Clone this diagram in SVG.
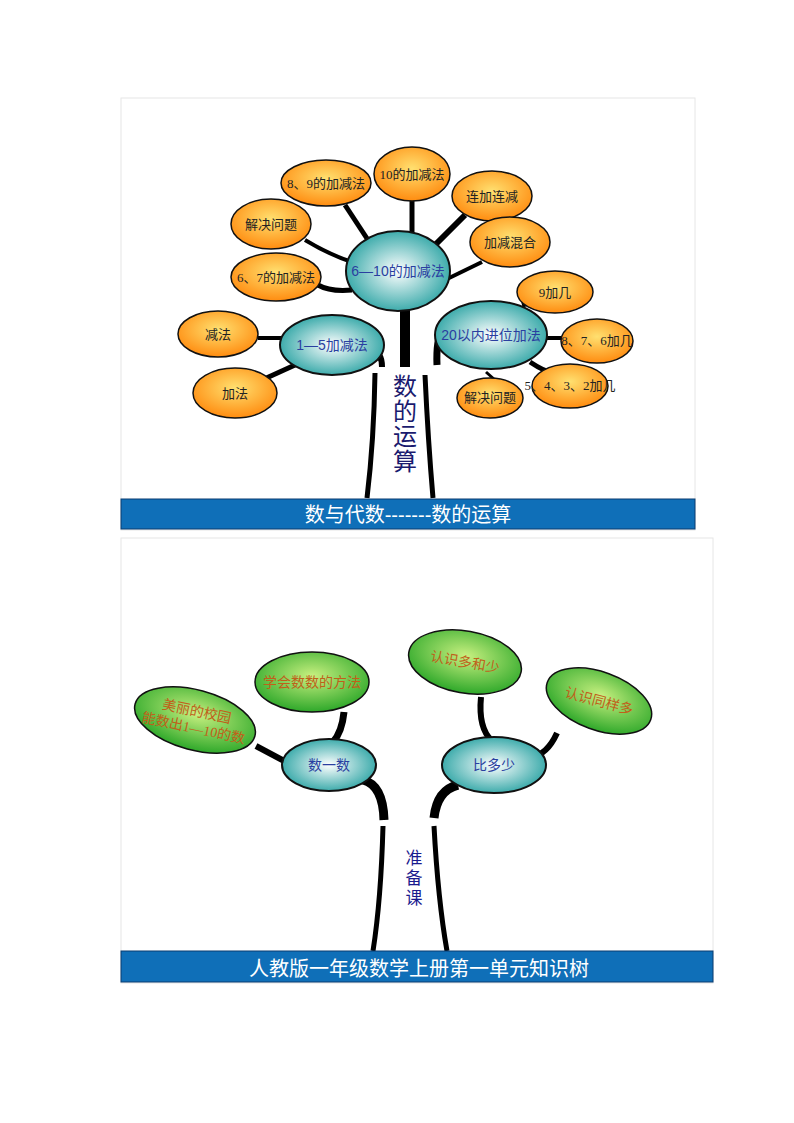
<svg xmlns="http://www.w3.org/2000/svg" width="794" height="1123" viewBox="0 0 794 1123">
<defs>
<radialGradient id="og" cx="50%" cy="40%" r="60%"><stop offset="0" stop-color="#ffe070"/><stop offset="1" stop-color="#ff8c10"/></radialGradient>
<radialGradient id="tg" cx="50%" cy="50%" r="55%"><stop offset="0" stop-color="#ffffff"/><stop offset="1" stop-color="#2aa3a3"/></radialGradient>
<radialGradient id="gg" cx="50%" cy="40%" r="60%"><stop offset="0" stop-color="#c8f080"/><stop offset="1" stop-color="#2ea82a"/></radialGradient>
</defs>
<style>
.o{fill:url(#og);stroke:#111;stroke-width:1.5}
.t{fill:url(#tg);stroke:#111;stroke-width:2}
.g{fill:url(#gg);stroke:#111;stroke-width:1.5}
.c{fill:none;stroke:#000;stroke-linecap:butt}
text{font-family:"Liberation Serif","Noto Sans CJK SC",serif;text-anchor:middle}
.ot{font-size:13px;fill:#222}
.tt{font-size:14px;fill:#2a3fa0;font-family:"Liberation Sans","Noto Sans CJK SC",sans-serif}
.gt{font-size:14px;fill:#c0601a}
.bar{fill:#0f6fb8;stroke:#0a3d70;stroke-width:1}
.bt{font-size:20px;fill:#fff;font-family:"Liberation Sans","Noto Sans CJK SC",sans-serif}
</style>
<rect x="121" y="98" width="574" height="432" fill="#fff" stroke="#e6e6e6"/>
<rect x="121" y="538" width="592" height="445" fill="#fff" stroke="#e6e6e6"/>
<g id="connectors">
<path class="c" stroke-width="5" d="M412 200 V235"/>
<path class="c" stroke-width="5" d="M345 205 L368 240"/>
<path class="c" stroke-width="6" d="M465 215 L435 245"/>
<path class="c" stroke-width="4" d="M305 240 Q330 255 352 262"/>
<path class="c" stroke-width="4" d="M482 262 L445 280"/>
<path class="c" stroke-width="5" d="M318 285 Q330 292 352 290"/>
<path class="c" stroke-width="4" d="M258 338 H282"/>
<path class="c" stroke-width="5" d="M262 380 L295 365"/>
<path class="c" stroke-width="5" d="M522 305 L540 300"/>
<path class="c" stroke-width="4" d="M546 338 H562"/>
<path class="c" stroke-width="5" d="M530 362 Q545 372 552 372"/>
<path class="c" stroke-width="3" d="M486 372 L495 380"/>
<path class="c" stroke-width="10" d="M405 308 V367"/>
<path class="c" stroke-width="6" d="M372 352 Q382 352 382 367"/>
<path class="c" stroke-width="5" d="M375 373 Q374 440 367 498"/>
<path class="c" stroke-width="7" d="M442 330 Q436 340 437 365"/>
<path class="c" stroke-width="5" d="M425 375 Q428 440 433 498"/>
<path class="c" stroke-width="7" d="M344 712 Q342 732 333 742"/>
<path class="c" stroke-width="6" d="M256 746 L286 762"/>
<path class="c" stroke-width="6" d="M481 697 Q478 728 492 741"/>
<path class="c" stroke-width="6" d="M557 733 Q547 755 531 757"/>
<path class="c" stroke-width="9" d="M363 780 Q383 785 384 820"/>
<path class="c" stroke-width="5" d="M383 826 Q381 900 373 951"/>
<path class="c" stroke-width="9" d="M458 785 Q437 790 434 818"/>
<path class="c" stroke-width="5" d="M434 826 Q438 900 447 951"/>
</g>
<g id="n1"><ellipse class="o" cx="412" cy="174" rx="38" ry="27"/><text class="ot" x="412" y="179">10的加减法</text></g>
<g id="n2"><ellipse class="o" cx="326" cy="183" rx="45" ry="23"/><text class="ot" x="326" y="188" font-size="12">8、9的加减法</text></g>
<g id="n3"><ellipse class="o" cx="492" cy="196" rx="40" ry="25"/><text class="ot" x="492" y="201">连加连减</text></g>
<g id="n4"><ellipse class="o" cx="271" cy="224" rx="40" ry="25"/><text class="ot" x="271" y="229">解决问题</text></g>
<g id="n5"><ellipse class="o" cx="510" cy="242" rx="40" ry="25"/><text class="ot" x="510" y="247">加减混合</text></g>
<g id="n6"><ellipse class="o" cx="276" cy="277" rx="45" ry="24"/><text class="ot" x="276" y="282">6、7的加减法</text></g>
<g id="n7"><ellipse class="t" cx="398" cy="271" rx="52" ry="40"/><text class="tt" x="398" y="276">6—10的加减法</text></g>
<g id="n8"><ellipse class="o" cx="555" cy="292" rx="38" ry="21"/><text class="ot" x="555" y="297">9加几</text></g>
<g id="n9"><ellipse class="o" cx="218" cy="334" rx="40" ry="23"/><text class="ot" x="218" y="339">减法</text></g>
<g id="n10"><ellipse class="t" cx="332" cy="345" rx="52" ry="30"/><text class="tt" x="332" y="350">1—5加减法</text></g>
<g id="n11"><ellipse class="t" cx="491" cy="335" rx="56" ry="34"/><text class="tt" x="491" y="340">20以内进位加法</text></g>
<g id="n12"><ellipse class="o" cx="597" cy="341" rx="36" ry="22"/><text class="ot" x="597" y="345" font-size="10">8、7、6加几</text></g>
<g id="n13"><ellipse class="o" cx="235" cy="393" rx="42" ry="25"/><text class="ot" x="235" y="398">加法</text></g>
<g id="n14"><ellipse class="o" cx="570" cy="386" rx="38" ry="22"/><text class="ot" x="570" y="390" font-size="10">5、4、3、2加几</text></g>
<g id="n15"><ellipse class="o" cx="490" cy="398" rx="33" ry="20"/><text class="ot" x="490" y="402" font-size="12">解决问题</text></g>
<g id="trunk1"><text x="405" y="395" font-size="24" fill="#1a1a6e">数</text><text x="405" y="420" font-size="24" fill="#1a1a6e">的</text><text x="405" y="445" font-size="24" fill="#1a1a6e">运</text><text x="405" y="470" font-size="24" fill="#1a1a6e">算</text></g>
<g id="bar1"><rect class="bar" x="121" y="499" width="574" height="30"/><text class="bt" x="408" y="522">数与代数-------数的运算</text></g>
<g id="m1"><ellipse class="g" cx="312" cy="682" rx="57" ry="30"/><text class="gt" x="312" y="687">学会数数的方法</text></g>
<g id="m2"><ellipse class="g" cx="195" cy="720" rx="62" ry="30" transform="rotate(15 195 720)"/><g transform="rotate(12 195 720)"><text class="gt" x="195" y="716">美丽的校园</text><text class="gt" x="195" y="733">能数出1—10的数</text></g></g>
<g id="m3"><ellipse class="g" cx="465" cy="662" rx="57" ry="31" transform="rotate(10 465 662)"/><text class="gt" x="465" y="667" transform="rotate(10 465 662)">认识多和少</text></g>
<g id="m4"><ellipse class="g" cx="599" cy="701" rx="55" ry="29" transform="rotate(20 599 701)"/><text class="gt" x="599" y="706" transform="rotate(15 599 701)">认识同样多</text></g>
<g id="m5"><ellipse class="t" cx="329" cy="765" rx="47" ry="26"/><text class="tt" x="329" y="770" font-family="Liberation Serif,Noto Sans CJK SC,serif">数一数</text></g>
<g id="m6"><ellipse class="t" cx="494" cy="765" rx="52" ry="28"/><text class="tt" x="494" y="770" font-family="Liberation Serif,Noto Sans CJK SC,serif">比多少</text></g>
<g id="trunk2"><text x="414" y="864" font-size="17" fill="#1a1a8e">准</text><text x="414" y="884" font-size="17" fill="#1a1a8e">备</text><text x="414" y="904" font-size="17" fill="#1a1a8e">课</text></g>
<g id="bar2"><rect class="bar" x="121" y="951" width="592" height="31"/><text class="bt" x="419" y="976">人教版一年级数学上册第一单元知识树</text></g>
</svg>
